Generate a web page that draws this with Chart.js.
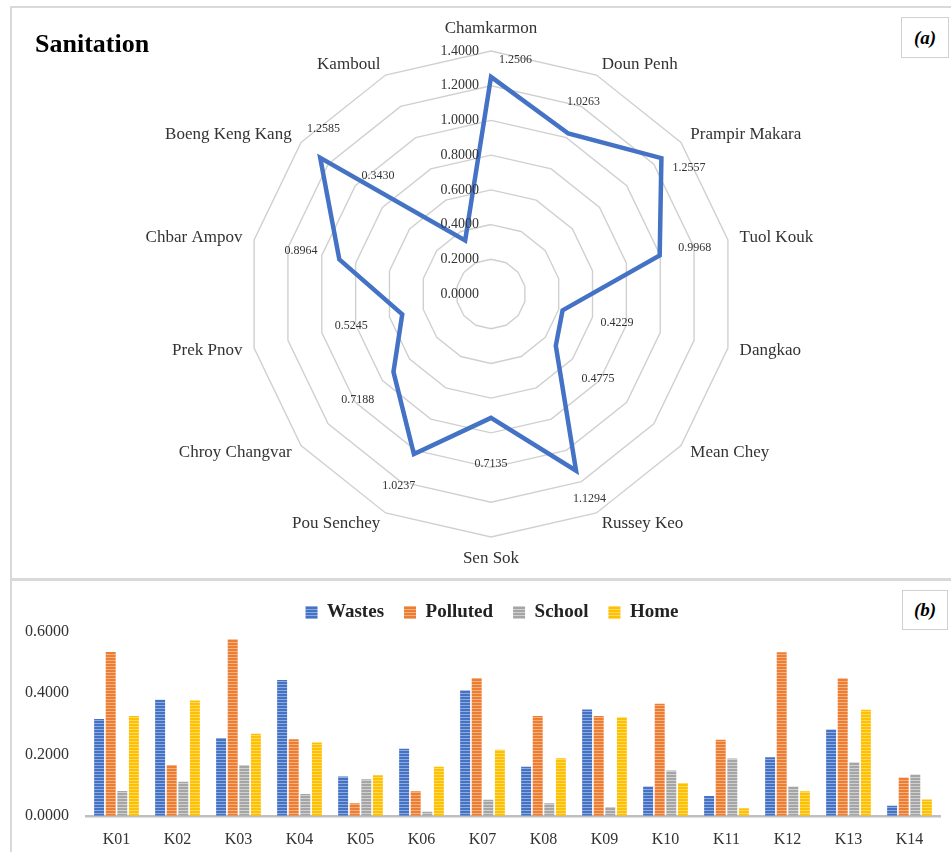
<!DOCTYPE html>
<html>
<head>
<meta charset="utf-8">
<script src="https://cdn.jsdelivr.net/npm/chart.js@4.4.1/dist/chart.umd.min.js"></script>
<style>
  body { margin: 0; background: #fff; width: 951px; height: 852px; overflow: hidden; position: relative; }
  .panel { position: absolute; border: 2px solid #d9d9d9; box-sizing: border-box; }
  #panelA { left: 10px; top: 6px; width: 960px; height: 574px; }
  #panelB { left: 10px; top: 579px; width: 960px; height: 290px; }
  .tag { position: absolute; box-sizing: border-box; border: 1.5px solid #d0d0d0; background: #fff;
         font: italic bold 19px "Liberation Serif", serif; color: #000;
         display: flex; align-items: center; justify-content: center; z-index: 2; }
  #tagA { left: 901px; top: 17px; width: 48px; height: 41px; }
  #tagB { left: 902px; top: 590px; width: 46px; height: 40px; }
  #title { position: absolute; left: 35px; top: 29px; line-height: 26px; font: bold 26px "Liberation Serif", serif; color: #000; z-index: 2; }
  canvas { position: absolute; }
  #radar { left: 51px; top: 18px; }
  #bars { left: 8px; top: 580px; }
</style>
</head>
<body>
<div class="panel" id="panelA"></div>
<div class="panel" id="panelB"></div>
<div id="title">Sanitation</div>
<div class="tag" id="tagA">(a)</div>
<div class="tag" id="tagB">(b)</div>
<canvas id="radar" width="880" height="552"></canvas>
<canvas id="bars" width="940" height="283"></canvas>
<script>
// (a) radar: district totals
const districts = ['Chamkarmon', 'Doun Penh', 'Prampir Makara', 'Tuol Kouk', 'Dangkao', 'Mean Chey',
    'Russey Keo', 'Sen Sok', 'Pou Senchey', 'Chroy Changvar', 'Prek Pnov', 'Chbar Ampov',
    'Boeng Keng Kang', 'Kamboul'];
const sanitation = [1.2506, 1.0263, 1.2557, 0.9968, 0.4229, 0.4775, 1.1294, 0.7135, 1.0237,
    0.7188, 0.5245, 0.8964, 1.2585, 0.3430];

// (b) bars: components per district code
const codes = ['K01', 'K02', 'K03', 'K04', 'K05', 'K06', 'K07', 'K08', 'K09', 'K10', 'K11', 'K12', 'K13', 'K14'];
const wastes   = [0.316, 0.379, 0.254, 0.443, 0.128, 0.219, 0.410, 0.160, 0.347, 0.096, 0.065, 0.191, 0.282, 0.033];
const polluted = [0.535, 0.166, 0.576, 0.250, 0.041, 0.080, 0.450, 0.326, 0.326, 0.366, 0.248, 0.534, 0.449, 0.125];
const school   = [0.081, 0.111, 0.166, 0.071, 0.119, 0.013, 0.052, 0.041, 0.029, 0.148, 0.187, 0.096, 0.175, 0.135];
const home     = [0.326, 0.376, 0.268, 0.239, 0.132, 0.160, 0.216, 0.188, 0.322, 0.107, 0.025, 0.080, 0.346, 0.053];

Chart.defaults.font.family = '"Liberation Serif", serif';
Chart.defaults.color = '#333';

// horizontal stripe fill like the Excel pattern
function stripes(base, light) {
    const c = document.createElement('canvas');
    c.width = 4;
    c.height = 3;
    const g = c.getContext('2d');
    g.fillStyle = base;
    g.fillRect(0, 0, 4, 3);
    g.fillStyle = light;
    g.fillRect(0, 2, 4, 1);
    return g.createPattern(c, 'repeat');
}

// category names, tick values and point values, placed Excel-style
const radarText = {
    id: 'radarText',
    afterDatasetsDraw(chart) {
        const r = chart.scales.r;
        const ctx = chart.ctx;
        ctx.save();
        ctx.fillStyle = '#333';
        ctx.textBaseline = 'middle';

        // district names, vertically centred on their spoke end
        ctx.font = '17px "Liberation Serif"';
        chart.data.labels.forEach((name, i) => {
            const deg = Math.round(360 * i / chart.data.labels.length);
            const vertical = deg === 0 || deg === 180;
            const p = r.getPointPosition(i, r.drawingArea + (vertical ? 22 : 12));
            ctx.textAlign = vertical ? 'center' : (deg < 180 ? 'left' : 'right');
            ctx.fillText(name, p.x, p.y);
        });

        // tick values left of the top spoke
        ctx.font = '14px "Liberation Serif"';
        ctx.textAlign = 'right';
        const colRight = r.xCenter - 12;
        let colWidth = 0;
        r.ticks.forEach(t => {
            const txt = t.value.toFixed(4);
            colWidth = Math.max(colWidth, ctx.measureText(txt).width);
            const d = r.getDistanceFromCenterForValue(t.value);
            ctx.fillText(txt, colRight, r.yCenter - d);
        });
        const colLeft = colRight - colWidth;

        // data values outside each point; near the rim they turn aside,
        // and they step up-left of the tick column instead of covering it
        ctx.font = '12px "Liberation Serif"';
        ctx.textAlign = 'center';
        chart.data.datasets[0].data.forEach((v, i) => {
            let d = 0.8 * r.getDistanceFromCenterForValue(v) + 0.29 * r.drawingArea;
            let turn = 0;
            if (d > r.drawingArea - 8) {
                d = r.drawingArea - 8;
                turn = Math.PI / 30;
            }
            const p = r.getPointPosition(i, d, turn);
            const txt = v.toFixed(4);
            const w = ctx.measureText(txt).width;
            let x = p.x;
            let y = p.y;
            if (y < r.yCenter + 8 && x + w / 2 > colLeft - 4 && x - w / 2 < colRight + 4) {
                x = colLeft - 46 - w / 2;
                y -= 12;
            }
            ctx.fillText(txt, x, y);
        });
        ctx.restore();
    }
};

new Chart(document.getElementById('radar'), {
    type: 'radar',
    data: {
        labels: districts,
        datasets: [{
            data: sanitation,
            borderColor: '#4472C4',
            borderWidth: 4.5,
            pointRadius: 0,
            fill: false,
            tension: 0
        }]
    },
    options: {
        responsive: false,
        animation: false,
        layout: { padding: { top: 33, bottom: 33 } },
        plugins: {
            legend: { display: false },
            tooltip: { enabled: false }
        },
        scales: {
            r: {
                min: 0,
                max: 1.4,
                ticks: { stepSize: 0.2, display: false },
                grid: { color: '#d0d0d0', lineWidth: 1.4 },
                angleLines: { display: false },
                pointLabels: { display: false }
            }
        }
    },
    plugins: [radarText]
});

// Excel centres this legend a little right of the canvas middle
const legendNudge = {
    id: 'legendNudge',
    afterLayout(chart) {
        chart.legend.left += 18;
        chart.legend.right += 18;
    }
};

new Chart(document.getElementById('bars'), {
    type: 'bar',
    data: {
        labels: codes,
        datasets: [
            { label: 'Wastes', data: wastes, backgroundColor: stripes('#4472C4', '#8faadc') },
            { label: 'Polluted', data: polluted, backgroundColor: stripes('#ED7D31', '#f4b183') },
            { label: 'School', data: school, backgroundColor: stripes('#A5A5A5', '#d0d0d0') },
            { label: 'Home', data: home, backgroundColor: stripes('#FFC000', '#ffd966') }
        ]
    },
    options: {
        responsive: false,
        animation: false,
        layout: { padding: { left: 0, right: 8, top: 3 } },
        datasets: { bar: { categoryPercentage: 0.76, barPercentage: 0.86, borderWidth: 0 } },
        plugins: {
            legend: {
                labels: {
                    font: { size: 19, weight: 'bold' },
                    color: '#222',
                    boxWidth: 12,
                    boxHeight: 13,
                    padding: 20
                }
            },
            tooltip: { enabled: false }
        },
        scales: {
            x: {
                grid: { display: false, drawTicks: false },
                border: { display: true, color: '#bfbfbf', width: 2.5 },
                ticks: { font: { size: 16 }, color: '#333', padding: 14 }
            },
            y: {
                min: 0,
                max: 0.6,
                grid: { display: false, drawTicks: false },
                border: { display: false },
                ticks: {
                    stepSize: 0.2,
                    font: { size: 16 },
                    color: '#333',
                    padding: 17,
                    callback: v => v.toFixed(4)
                }
            }
        }
    },
    plugins: [legendNudge]
});
</script>
</body>
</html>
